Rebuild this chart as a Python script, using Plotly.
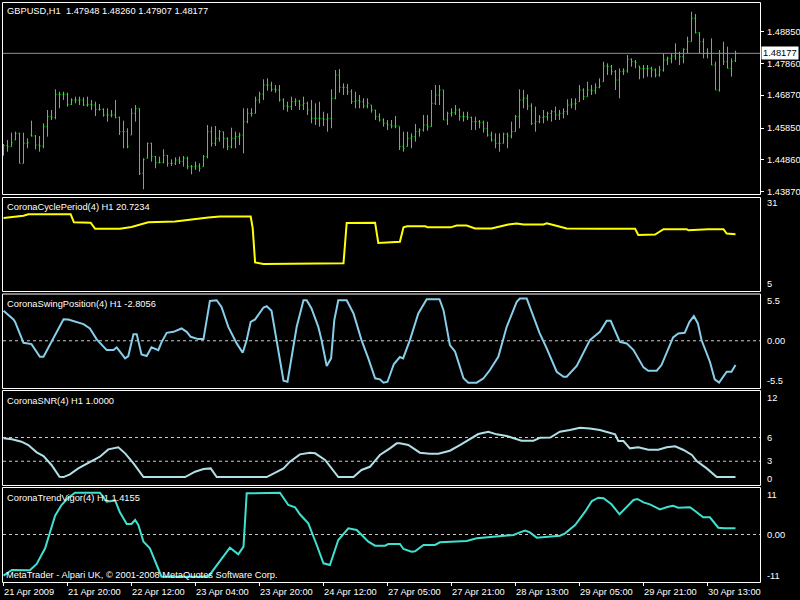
import plotly.graph_objects as go

# ---------------- data ----------------
bar_open = [1.45200,1.45306,1.45275,1.45482,1.45689,1.44756,1.45378,1.45637,1.45606,1.45326,
            1.45295,1.45897,1.46208,1.46187,1.46902,1.46902,1.46902,1.46591,1.46726,1.46726,
            1.46726,1.46570,1.46591,1.46570,1.46436,1.46436,1.46259,1.46259,1.46259,1.46187,
            1.45741,1.45741,1.45637,1.46311,1.46467,1.44445,1.44912,1.45378,1.44964,1.44777,
            1.44787,1.45005,1.44756,1.44756,1.44860,1.44818,1.44912,1.44653,1.44653,1.44673,
            1.44653,1.44964,1.45741,1.45378,1.45534,1.45741,1.45534,1.45275,1.45534,1.45586,
            1.45637,1.46052,1.46311,1.46311,1.46726,1.46913,1.47192,1.47192,1.47058,1.47037,
            1.46726,1.46539,1.46519,1.46674,1.46695,1.46570,1.46622,1.46415,1.46156,1.46156,
            1.46156,1.46125,1.46156,1.46778,1.47503,1.47120,1.47120,1.46985,1.46674,1.46705,
            1.46674,1.46539,1.46570,1.46415,1.46208,1.46104,1.46000,1.45948,1.45917,1.45917,
            1.45275,1.45275,1.45534,1.45586,1.45741,1.45793,1.45948,1.45897,1.46622,1.46881,
            1.47037,1.46104,1.46311,1.46332,1.46415,1.46208,1.46208,1.46187,1.46052,1.46052,
            1.46021,1.45845,1.45637,1.45482,1.45378,1.45378,1.45668,1.45606,1.45741,1.46208,
            1.46726,1.46778,1.46539,1.46000,1.46052,1.46187,1.46208,1.46311,1.46363,1.46259,
            1.46311,1.46363,1.46570,1.46602,1.46674,1.47037,1.46830,1.47037,1.47016,1.47120,
            1.47296,1.47783,1.47763,1.47607,1.47348,1.47607,1.47628,1.47991,1.47918,1.47783,
            1.47711,1.47711,1.47711,1.47659,1.47503,1.47659,1.47970,1.48022,1.48094,1.48177,
            1.48074,1.48302,1.48540,1.49266,1.48820,1.48540,1.48177,1.48177,1.47814,1.47037,
            1.48177,1.47918,1.47711,1.47948]
bar_high = [1.45357,1.45482,1.45710,1.45741,1.45710,1.45710,1.45534,1.46083,1.45637,1.45606,
            1.46000,1.46415,1.46415,1.47058,1.46985,1.46985,1.46954,1.46778,1.46830,1.46830,
            1.46809,1.46830,1.46726,1.46674,1.46602,1.46467,1.46467,1.46415,1.46726,1.46208,
            1.46083,1.45845,1.46467,1.46570,1.46467,1.44912,1.45399,1.45399,1.44984,1.44964,
            1.45192,1.45015,1.44881,1.44943,1.44964,1.44984,1.44964,1.44704,1.44808,1.44756,
            1.45015,1.45948,1.45897,1.45917,1.45793,1.45741,1.45565,1.45865,1.45741,1.45710,
            1.46467,1.46467,1.46467,1.46830,1.46985,1.47369,1.47400,1.47296,1.47192,1.47192,
            1.46778,1.46674,1.46830,1.46778,1.46726,1.46830,1.46674,1.46726,1.46622,1.46674,
            1.46363,1.46311,1.47058,1.47659,1.47690,1.47244,1.47224,1.47058,1.46985,1.46881,
            1.46778,1.46778,1.46570,1.46415,1.46311,1.46156,1.46104,1.46104,1.46228,1.45897,
            1.45741,1.45741,1.45689,1.45980,1.45845,1.46259,1.46259,1.47037,1.47192,1.47192,
            1.47037,1.46363,1.46467,1.46570,1.46467,1.46363,1.46363,1.46208,1.46208,1.46104,
            1.46083,1.46052,1.45741,1.45689,1.45689,1.45710,1.45710,1.46052,1.46259,1.47058,
            1.47037,1.46902,1.46622,1.46519,1.46259,1.46415,1.46363,1.46415,1.46519,1.46415,
            1.46467,1.46747,1.46778,1.46778,1.47192,1.47089,1.47296,1.47192,1.47244,1.47400,
            1.47918,1.47866,1.47814,1.47659,1.47711,1.47711,1.48125,1.48022,1.47970,1.47783,
            1.47814,1.47814,1.47763,1.47711,1.47783,1.48177,1.48074,1.48177,1.48488,1.48229,
            1.48333,1.48696,1.49473,1.49401,1.48830,1.48644,1.48333,1.48644,1.47918,1.48281,
            1.48540,1.48385,1.48022,1.48260]
bar_low = [1.44995,1.45119,1.45275,1.45482,1.44756,1.44756,1.45223,1.45586,1.45192,1.45119,
           1.45223,1.45586,1.46104,1.46125,1.46467,1.46726,1.46519,1.46570,1.46622,1.46570,
           1.46539,1.46519,1.46415,1.46228,1.46394,1.46208,1.46052,1.46187,1.46156,1.45637,
           1.45223,1.45223,1.45637,1.46052,1.44393,1.43948,1.44912,1.44808,1.44601,1.44756,
           1.44756,1.44653,1.44673,1.44704,1.44735,1.44653,1.44570,1.44414,1.44549,1.44497,
           1.44653,1.44912,1.45275,1.45295,1.45430,1.45223,1.45171,1.45223,1.45223,1.45326,
           1.45067,1.46000,1.46208,1.46311,1.46622,1.46726,1.47016,1.46985,1.46954,1.46674,
           1.46415,1.46363,1.46415,1.46539,1.46415,1.46415,1.46259,1.46000,1.45948,1.45897,
           1.45917,1.45741,1.45845,1.46747,1.46954,1.46881,1.46881,1.46602,1.46467,1.46467,
           1.46467,1.46467,1.46332,1.46104,1.46052,1.45897,1.45793,1.45845,1.45845,1.45171,
           1.45119,1.45275,1.45223,1.45430,1.45586,1.45741,1.45772,1.45897,1.46570,1.46570,
           1.46104,1.45948,1.46208,1.46259,1.46083,1.46052,1.46104,1.45793,1.45793,1.45845,
           1.45710,1.45586,1.45430,1.45223,1.45119,1.45378,1.45223,1.45534,1.45741,1.45845,
           1.46467,1.46415,1.45948,1.45741,1.46000,1.46000,1.46083,1.46052,1.46104,1.46104,
           1.46156,1.46259,1.46467,1.46415,1.46674,1.46726,1.46830,1.46881,1.46913,1.47089,
           1.47296,1.47503,1.47503,1.47037,1.46778,1.47503,1.47576,1.47763,1.47711,1.47369,
           1.47400,1.47452,1.47431,1.47431,1.47452,1.47607,1.47814,1.47866,1.47970,1.47814,
           1.47866,1.48177,1.48540,1.48799,1.48177,1.48022,1.48022,1.47814,1.47037,1.46985,
           1.47814,1.47711,1.47452,1.47907]
bar_close = [1.45306,1.45275,1.45399,1.45689,1.44756,1.45378,1.45399,1.45606,1.45326,1.45295,
             1.45897,1.46208,1.46187,1.46902,1.46902,1.46902,1.46591,1.46726,1.46726,1.46726,
             1.46570,1.46591,1.46570,1.46436,1.46436,1.46259,1.46259,1.46259,1.46187,1.45741,
             1.45741,1.45275,1.46311,1.46467,1.44445,1.44881,1.45378,1.44964,1.44777,1.44787,
             1.45005,1.44756,1.44756,1.44860,1.44818,1.44912,1.44653,1.44653,1.44673,1.44601,
             1.44964,1.45741,1.45378,1.45534,1.45741,1.45534,1.45275,1.45534,1.45586,1.45637,
             1.46052,1.46311,1.46311,1.46726,1.46913,1.47192,1.47192,1.47058,1.47037,1.46726,
             1.46539,1.46519,1.46674,1.46695,1.46570,1.46622,1.46415,1.46156,1.46156,1.46156,
             1.46125,1.46156,1.46778,1.47503,1.47120,1.47120,1.46985,1.46674,1.46705,1.46674,
             1.46539,1.46622,1.46415,1.46208,1.46104,1.46000,1.45948,1.45917,1.45917,1.45275,
             1.45223,1.45534,1.45586,1.45741,1.45793,1.45948,1.45897,1.46622,1.46881,1.47037,
             1.46104,1.46311,1.46332,1.46415,1.46208,1.46208,1.46187,1.46052,1.46052,1.46021,
             1.45845,1.45637,1.45482,1.45378,1.45378,1.45668,1.45606,1.45741,1.46208,1.46726,
             1.46778,1.46539,1.46000,1.46052,1.46187,1.46208,1.46311,1.46363,1.46259,1.46311,
             1.46363,1.46570,1.46602,1.46622,1.47037,1.46830,1.47037,1.47016,1.47120,1.47161,
             1.47783,1.47763,1.47607,1.47348,1.47607,1.47628,1.47991,1.47918,1.47887,1.47711,
             1.47711,1.47711,1.47659,1.47503,1.47659,1.47970,1.48022,1.48094,1.48177,1.48074,
             1.48302,1.48540,1.49266,1.48820,1.48540,1.48177,1.48177,1.47814,1.47037,1.48177,
             1.47918,1.47711,1.47918,1.48177]
bar_index = list(range(len(bar_close)))

price_ticks = [1.48850, 1.47860, 1.46870, 1.45850, 1.44860, 1.43870]
bid_price = 1.48177

time_label_bars = [0, 16, 32, 48, 64, 80, 96, 112, 128, 144, 160, 176]
time_labels = ["21 Apr 2009", "21 Apr 20:00", "22 Apr 12:00", "23 Apr 04:00",
               "23 Apr 20:00", "24 Apr 12:00", "27 Apr 05:00", "27 Apr 21:00",
               "28 Apr 13:00", "29 Apr 05:00", "29 Apr 21:00", "30 Apr 13:00"]

cycle_x = [0, 5, 6.2, 16.8, 17.6, 21.8, 22.9, 29.1, 32, 36.2, 42.9, 47, 51.2, 54.1, 61.8, 62.3,
           62.9, 65, 76.2, 85, 85.8, 92.9, 93.7, 99.1, 100, 100.9, 105.5, 106, 111.8, 113.3,
           115.8, 117.9, 122, 124.1, 126.2, 128.3, 130, 135, 135.8, 137, 139.5, 140.8, 149.1,
           157.9, 158.7, 162.9, 165, 170.8, 171.2, 176.2, 180, 180.8, 183]
cycle_v = [25.2, 25.8, 26.2, 26.2, 24.0, 23.9, 22.2, 22.2, 22.7, 24.0, 24.2, 24.8, 25.3, 25.6,
           25.6, 22.4, 12.9, 12.5, 12.6, 12.7, 23.8, 23.9, 18.3, 18.6, 22.6, 22.9, 22.9, 22.6,
           22.6, 23.1, 23.1, 22.3, 22.3, 22.9, 23.4, 23.7, 23.4, 23.4, 23.7, 23.4, 22.6, 22.3,
           22.2, 22.2, 20.5, 20.6, 22.1, 22.1, 21.8, 22.1, 22.1, 20.9, 20.72]

swing_x = [0, 2.5, 2.9, 5, 7, 9.1, 10, 12.5, 15, 16.2, 17.9, 20, 21.6, 23.3, 25.8, 27.5, 28.3,
           29.1, 30.4, 31.2, 32.5, 33.3, 34.5, 35.8, 37, 38.7, 39.5, 40.8, 42.5, 44.5, 45.8, 46.8,
           48.7, 50, 51.6, 53.3, 54.5, 56.2, 58.3, 59.8, 60.8, 61.8, 62.9, 65, 65.8, 67, 68.3, 70,
           71, 72, 73.3, 75, 75.8, 77, 78.7, 79.5, 80.8, 81.9, 82.7, 83.7, 85.8, 87.5, 89.5, 91.2,
           92.9, 94.1, 95, 96, 97.6, 99.1, 99.9, 101.6, 103.7, 105.8, 109, 110, 111.6, 112.9, 115,
           116.2, 118.3, 120, 121.6, 123.7, 125.8, 128.3, 129.1, 130.8, 132.5, 134, 135.8, 138.3,
           140, 140.8, 143.3, 146.6, 149.1, 150.8, 151.8, 152.9, 154.1, 155.8, 157.5, 160, 161.2,
           163.3, 164.5, 167.4, 168.7, 170.3, 171.5, 172.6, 173.6, 174.5, 176.6, 177.8, 178.9,
           180.8, 182, 183]
swing_v = [3.48, 2.48, 2.20, -0.24, -0.39, -1.86, -1.86, 0.27, 2.51, 2.48, 2.20, 1.93, 1.43, 0.16,
           -1.09, -1.09, -0.77, -1.28, -2.05, -1.78, 0.77, 0.77, -1.59, -1.78, -0.77, -1.09, -0.19,
           0.92, 1.04, 1.43, 1.04, 0.46, 0.19, 0.19, 4.64, 4.72, 3.94, 1.62, -0.31, -1.40, 0.08,
           2.20, 2.48, 3.87, 4.02, 3.48, 0.08, -4.65, -4.77, -2.05, 1.62, 4.72, 4.72, 3.76, 1.62,
           0.08, -2.94, -2.05, 2.40, 4.72, 4.72, 3.18, 0.08, -2.05, -4.37, -4.49, -4.88, -4.77,
           -2.71, -1.90, -2.05, 0.08, 3.18, 4.84, 4.84, 3.56, -0.51, -1.28, -4.37, -4.88, -4.88,
           -4.37, -3.41, -1.86, 1.62, 4.52, 4.92, 4.92, 2.78, 0.92, -0.89, -3.61, -4.19, -4.19,
           -2.94, 0.08, 1.04, 2.32, 2.32, 1.24, -0.12, -0.31, -1.09, -3.10, -3.49, -3.49, -2.83,
           0.39, 0.85, 0.92, 2.20, 2.86, 2.02, 0.08, -2.44, -4.49, -4.88, -3.61, -3.61, -2.81]

snr_x = [0, 2.1, 4.5, 6.2, 8.3, 10, 12, 14, 15, 16.6, 18.7, 24.1, 26.2, 28.7, 30.4, 32.5, 35, 45.4,
         47.9, 50, 51.8, 53.3, 65.8, 68.3, 70, 71.6, 74.1, 76.6, 77.9, 80.4, 83.7, 87.5, 89.5, 91.6,
         94.1, 96.6, 98.3, 99.1, 101.2, 104.1, 106.6, 108.7, 111.6, 114.1, 118.7, 121.2, 123.3,
         125.8, 127.9, 129.5, 132.5, 134.2, 136.7, 139.1, 141.6, 144.1, 146.6, 149.1, 152.9, 153.7,
         155, 156.6, 158.7, 161.2, 163.7, 165.8, 167.9, 170, 172.1, 173.3, 175.8, 178.3, 183]
snr_v = [5.9, 5.77, 5.47, 5.05, 4.13, 3.66, 2.53, 1.05, 1.0, 1.35, 2.1, 3.58, 4.5, 4.76, 4.0, 2.74,
         1.0, 1.0, 1.68, 2.02, 2.1, 1.0, 1.0, 1.6, 2.1, 2.95, 3.87, 4.08, 4.0, 3.16, 1.0, 1.0, 1.9,
         2.3, 3.79, 4.63, 5.26, 5.26, 5.05, 4.08, 3.96, 3.96, 4.33, 5.05, 6.44, 6.73, 6.4, 6.19,
         5.81, 5.6, 5.6, 5.98, 6.0, 6.73, 6.95, 7.24, 7.15, 6.95, 6.4, 5.56, 5.56, 4.63, 4.76, 4.46,
         4.46, 4.76, 4.88, 4.42, 3.79, 3.03, 2.1, 1.0, 1.0]

trend_x = [0, 2.1, 6.6, 8.3, 10.4, 12.9, 14.5, 16.2, 17.9, 24.1, 25.8, 27.9, 29.1, 30.8, 32, 32.9,
           33.7, 35, 36.6, 38.7, 39.5, 51.2, 53.3, 56.6, 58.7, 60, 60.8, 69.1, 71.2, 72.9, 74.1,
           76.2, 78.3, 80, 81.6, 83.7, 86.2, 88.3, 91.2, 92.9, 95.4, 96.2, 99.1, 100, 102, 102.9,
           105, 107.9, 109.1, 115.8, 118.3, 123.3, 127.5, 129.1, 130.4, 131.6, 133.3, 139.1, 140.4,
           142.9, 145.4, 147.1, 148.7, 150, 152, 154, 155.8, 157.5, 158.5, 160, 161.6, 164.1, 166.2,
           167.4, 168.7, 171.6, 172.9, 174.9, 176.6, 178.7, 180.3, 183]
trend_v = [-9.54, -8.22, -8.3, -6.83, -3.2, 4.35, 6.83, 8.52, 9.68, 9.68, 7.6, 7.9, 5.14, 2.43,
           2.43, 3.36, 2.2, -1.67, -3.2, -8.22, -9.77, -9.77, -7.06, -3.06, -4.59, -2.82, 9.54,
           9.68, 6.83, 6.3, 4.68, 2.59, -2.43, -6.67, -7.06, -1.27, 1.43, 1.05, -1.67, -2.59, -2.59,
           -2.2, -2.2, -3.36, -3.98, -3.9, -2.43, -2.43, -1.81, -1.5, -0.88, -0.5, -0.12, 0.5, 0.89,
           0.5, -0.73, -0.27, 0.27, 2.2, 5.28, 7.76, 8.52, 8.4, 6.99, 4.68, 6.44, 7.99, 8.22, 7.45,
           6.99, 5.83, 6.44, 6.67, 6.21, 6.3, 5.44, 3.98, 3.98, 1.57, 1.43, 1.42]

# ---------------- layout helpers ----------------
W, H = 800, 600
FONT = "Liberation Sans"
FS = 9.3


def fy(p):
    return 1 - p / H


def fx(p):
    return p / W


X_LEFT, X_RIGHT = 2, 760
panels = [(2, 194), (197, 291), (293.5, 388), (390, 485), (487, 582)]

fig = go.Figure()

fig.add_trace(go.Ohlc(x=bar_index, open=bar_open, high=bar_high, low=bar_low, close=bar_close,
                      increasing_line_color="#00ff00", decreasing_line_color="#00ff00",
                      line_width=1, tickwidth=0.25, xaxis="x", yaxis="y", showlegend=False,
                      hoverinfo="skip"))
fig.add_trace(go.Scatter(x=cycle_x, y=cycle_v, mode="lines", line=dict(color="#ffff00", width=2),
                         xaxis="x", yaxis="y2", showlegend=False, hoverinfo="skip"))
fig.add_trace(go.Scatter(x=swing_x, y=swing_v, mode="lines", line=dict(color="#87ceeb", width=2),
                         xaxis="x", yaxis="y3", showlegend=False, hoverinfo="skip"))
fig.add_trace(go.Scatter(x=snr_x, y=snr_v, mode="lines", line=dict(color="#b0e0e6", width=2),
                         xaxis="x", yaxis="y4", showlegend=False, hoverinfo="skip"))
fig.add_trace(go.Scatter(x=trend_x, y=trend_v, mode="lines", line=dict(color="#40e0d0", width=2),
                         xaxis="x", yaxis="y5", showlegend=False, hoverinfo="skip"))

ranges = [None, [5, 31], [-5.5, 5.5], [0, 12], [-11, 11]]

axis_common = dict(showgrid=False, zeroline=False, showline=False, fixedrange=True)
layout = dict(
    width=W, height=H, margin=dict(l=0, r=0, t=0, b=0),
    paper_bgcolor="black", plot_bgcolor="black",
    font=dict(family=FONT, size=FS, color="white"),
    showlegend=False,
    xaxis=dict(domain=[fx(X_LEFT), fx(X_RIGHT)], range=[-0.375, 189.125], anchor="y5",
               tickmode="array", tickvals=time_label_bars, ticks="outside", ticklen=3,
               tickcolor="white", tickwidth=1, showticklabels=False,
               rangeslider=dict(visible=False), **axis_common),
    yaxis=dict(domain=[fy(panels[0][1]), fy(panels[0][0])], range=[1.43802, 1.49774],
               side="right", anchor="x", tickmode="array", tickvals=price_ticks,
               ticks="outside", ticklen=3, tickcolor="white", showticklabels=False,
               **axis_common),
)
for k in range(1, 5):
    top, bot = panels[k]
    layout["yaxis%d" % (k + 1)] = dict(domain=[fy(bot), fy(top)], range=ranges[k], side="right",
                                       anchor="x", showticklabels=False, ticks="", **axis_common)
fig.update_layout(**layout)

shapes = []
# panel frames
for top, bot in panels:
    shapes.append(dict(type="rect", xref="paper", yref="paper", x0=fx(X_LEFT + 0.5),
                       x1=fx(X_RIGHT + 0.5), y0=fy(bot + 0.5), y1=fy(top + 0.5),
                       line=dict(color="white", width=1), fillcolor="rgba(0,0,0,0)", layer="above"))
# level lines
for yref, lvl in [("y3", 0), ("y4", 6), ("y4", 3), ("y5", 0)]:
    shapes.append(dict(type="line", xref="paper", yref=yref, x0=fx(X_LEFT + 1), x1=fx(X_RIGHT),
                       y0=lvl, y1=lvl, line=dict(color="#c8c8c8", width=1, dash="3px,3px"),
                       layer="below"))
# bid line
shapes.append(dict(type="line", xref="paper", yref="y", x0=fx(X_LEFT + 1), x1=fx(X_RIGHT),
                   y0=bid_price, y1=bid_price, line=dict(color="#8494a4", width=1), layer="below"))
fig.update_layout(shapes=shapes)

ann = []


def txt(x, y, s, **kw):
    d = dict(x=fx(x), y=fy(y), xref="paper", yref="paper", text=s, showarrow=False,
             xanchor="left", yanchor="middle", font=dict(family=FONT, size=FS, color="white"))
    d.update(kw)
    ann.append(d)


nb = "\u00a0"
txt(5, 11, "GBPUSD,H1" + nb + nb + "1.47948 1.48260 1.47907 1.48177")
txt(5, 207, "CoronaCyclePeriod(4) H1 20.7234")
txt(5, 304, "CoronaSwingPosition(4) H1 -2.8056")
txt(5, 401, "CoronaSNR(4) H1 1.0000")
txt(5, 498, "CoronaTrendVigor(4) H1 1.4155")
txt(4, 575, "MetaTrader - Alpari UK, \u00a9 2001-2008 MetaQuotes Software Corp.")

# right-side price labels
for v in price_ticks:
    ann.append(dict(x=fx(765), y=v, xref="paper", yref="y", text="%.5f" % v, showarrow=False,
                    xanchor="left", yanchor="middle",
                    font=dict(family=FONT, size=FS, color="white")))

# right-side labels of indicator windows
right_labels = [("y2", 31, "31", -6), ("y2", 5, "5", 7),
                ("y3", 5.5, "5.5", -7.5), ("y3", 0, "0.00", 0), ("y3", -5.5, "-5.5", 7),
                ("y4", 12, "12", -7.5), ("y4", 6, "6", 0), ("y4", 3, "3", 0), ("y4", 0, "0", 6.5),
                ("y5", 11, "11", -8), ("y5", 0, "0.00", 0), ("y5", -11, "-11", 6.5)]
for yref, val, s, shift in right_labels:
    ann.append(dict(x=fx(765), y=val, xref="paper", yref=yref, text=s, showarrow=False,
                    xanchor="left", yanchor="middle", yshift=shift,
                    font=dict(family=FONT, size=FS, color="white")))

# bid price box
ann.append(dict(x=fx(761), y=bid_price, xref="paper", yref="y", text="1.48177", showarrow=False,
                xanchor="left", yanchor="middle", bgcolor="white", borderpad=1,
                font=dict(family=FONT, size=FS, color="black")))

# time labels
for b, s in zip(time_label_bars, time_labels):
    ann.append(dict(x=b, y=fy(592), xref="x", yref="paper", text=s, showarrow=False,
                    xanchor="left", yanchor="middle", xshift=-2,
                    font=dict(family=FONT, size=FS, color="white")))

fig.update_layout(annotations=ann)

fig.write_html("out.html", config={"displayModeBar": False},
               post_script="document.body.style.margin='0';document.body.style.overflow='hidden';")
